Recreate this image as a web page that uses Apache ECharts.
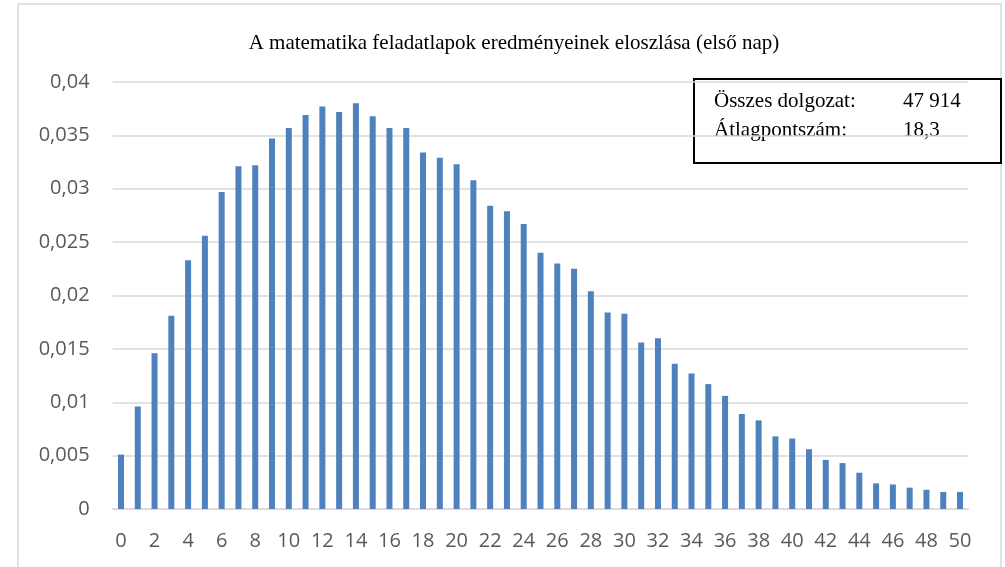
<!DOCTYPE html>
<html>
<head>
<meta charset="utf-8">
<script src="https://cdn.jsdelivr.net/npm/echarts@6/dist/echarts.min.js"></script>
<style>
  html, body { margin: 0; padding: 0; background: #fff; }
  #chart { width: 1005px; height: 567px; }
</style>
</head>
<body>
<div id="chart"></div>
<script>
// pontszámok (0..50) és relatív gyakoriságok
const scores = [];
for (let i = 0; i <= 50; i++) scores.push(String(i));

const shares = [
  0.0051, 0.0096, 0.0146, 0.0181, 0.0233, 0.0256, 0.0297, 0.0321, 0.0322, 0.0347,
  0.0357, 0.0369, 0.0377, 0.0372, 0.0380, 0.0368, 0.0357, 0.0357, 0.0334, 0.0329,
  0.0323, 0.0308, 0.0284, 0.0279, 0.0267, 0.0240, 0.0230, 0.0225, 0.0204, 0.0184,
  0.0183, 0.0156, 0.0160, 0.0136, 0.0127, 0.0117, 0.0106, 0.0089, 0.0083, 0.0068,
  0.0066, 0.0056, 0.0046, 0.0043, 0.0034, 0.0024, 0.0023, 0.0020, 0.0018, 0.0016,
  0.0016
];

const yTicks = [0, 0.005, 0.01, 0.015, 0.02, 0.025, 0.03, 0.035, 0.04];

const infoLabels = ["Összes dolgozat:", "Átlagpontszám:"];
const infoValues = ["47 914", "18,3"];

const chart = echarts.init(document.getElementById("chart"));

const sansFont = "'Open Sans', 'Noto Sans', sans-serif";
const serifFont = "'Liberation Serif', 'DejaVu Serif', serif";

const infoText = (i) => [
  {
    type: "text",
    left: 714,
    top: 91 + i * 29,
    style: { text: infoLabels[i], font: "21px " + serifFont, fill: "#000" }
  },
  {
    type: "text",
    left: 903,
    top: 91 + i * 29,
    style: { text: infoValues[i], font: "21px " + serifFont, fill: "#000" }
  }
];

const option = {
  backgroundColor: "#fff",
  animation: false,
  title: {
    text: "A matematika feladatlapok eredményeinek eloszlása (első nap)",
    left: 509,
    top: 28,
    textAlign: "center",
    textStyle: {
      fontFamily: serifFont,
      fontSize: 21,
      fontWeight: "normal",
      color: "#000"
    }
  },
  grid: {
    left: 112.6,
    right: 36.6,
    top: 82,
    bottom: 58
  },
  xAxis: {
    type: "category",
    data: scores,
    axisTick: { show: false },
    axisLine: { lineStyle: { color: "#d9d9d9", width: 1.5 } },
    axisLabel: {
      interval: 1,
      margin: 22,
      color: "#595959",
      fontFamily: sansFont,
      fontSize: 20
    }
  },
  yAxis: {
    type: "value",
    min: 0,
    max: yTicks[yTicks.length - 1],
    interval: yTicks[1],
    axisLine: { show: false },
    axisTick: { show: false },
    splitLine: { lineStyle: { color: "#d9d9d9", width: 1.5 } },
    axisLabel: {
      margin: 23,
      color: "#595959",
      fontFamily: sansFont,
      fontSize: 20,
      formatter: (v) => String(+v.toFixed(3)).replace(".", ",")
    }
  },
  series: [
    {
      type: "bar",
      data: shares,
      barWidth: 6,
      itemStyle: { color: "#4f81bd" }
    }
  ],
  graphic: [
    {
      type: "rect",
      shape: { x: 18, y: 4, width: 983, height: 600 },
      style: { fill: "none", stroke: "#d9d9d9", lineWidth: 1.5 },
      silent: true
    },
    {
      type: "rect",
      shape: { x: 694, y: 79, width: 307, height: 84 },
      style: { fill: "none", stroke: "#000", lineWidth: 2 },
      silent: true
    },
    ...infoText(0),
    ...infoText(1)
  ]
};

chart.setOption(option);
</script>
</body>
</html>
